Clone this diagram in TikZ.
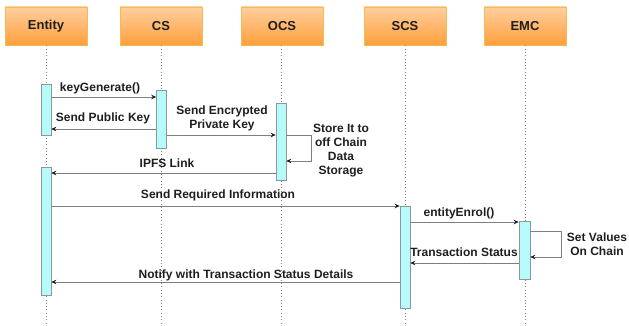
\documentclass[tikz,border=0pt]{standalone}
\usepackage{fontspec}
\setmainfont{Liberation Sans}
\usetikzlibrary{arrows.meta}
\definecolor{hdrtop}{HTML}{FFCF9E}
\definecolor{hdrbot}{HTML}{FF9F3C}
\definecolor{hdrline}{HTML}{F2BC52}
\definecolor{barfill}{HTML}{B6FAFA}
\definecolor{barline}{HTML}{8A9A9A}
\definecolor{wire}{HTML}{7F7F7F}
\definecolor{ink}{HTML}{1E1E1E}
\begin{document}
\begin{tikzpicture}[x=1pt,y=-1pt,
  actor/.style={draw=hdrline, line width=0.8pt, top color=hdrtop, bottom color=hdrbot,
    minimum width=82pt, minimum height=38pt, inner sep=0pt,
    font=\fontsize{13}{15}\selectfont\bfseries, text=ink},
  life/.style={draw=wire, line width=0.9pt, dash pattern=on 0.9pt off 2.4pt},
  actbar/.style={draw=barline, line width=0.6pt, fill=barfill, inner sep=0pt,
    minimum width=10pt, anchor=north},
  msg/.style={draw=wire, line width=0.8pt, -{Stealth[length=5pt,width=4.5pt,color=ink,fill=ink]}},
  lbl/.style={font=\fontsize{12}{13.8}\selectfont\bfseries, text=ink, align=center, inner sep=0pt}
]
\useasboundingbox (0,0) rectangle (629,326);

% participants
\node[actor] (ent) at (46,26)  {Entity};
\node[actor] (cs)  at (161,26) {CS};
\node[actor] (ocs) at (282,26) {OCS};
\node[actor] (scs) at (405,26) {SCS};
\node[actor] (emc) at (525,26) {EMC};

% lifelines
\coordinate (entEnd) at (46,323);
\coordinate (csEnd)  at (161,323);
\coordinate (ocsEnd) at (281,323);
\coordinate (scsEnd) at (405,323);
\coordinate (emcEnd) at (525,323);
\draw[life] (ent.south -| entEnd) -- (entEnd);
\draw[life] (cs.south -| csEnd) -- (csEnd);
\draw[life] (ocs.south -| ocsEnd) -- (ocsEnd);
\draw[life] (scs.south -| scsEnd) -- (scsEnd);
\draw[life] (emc.south -| emcEnd) -- (emcEnd);

% activation bars
\node[actbar, minimum height=51pt]  (e1) at (46,84)    {};
\node[actbar, minimum height=58pt]  (c1) at (161.5,90) {};
\node[actbar, minimum height=77pt]  (o1) at (281,103)  {};
\node[actbar, minimum height=128pt] (e2) at (46,167)   {};
\node[actbar, minimum height=102pt] (s1) at (405,206)  {};
\node[actbar, minimum height=58pt, minimum width=11pt] (m1) at (524.5,221) {};

% messages
\draw[msg] (e1.east |- 0,97)  -- (c1.west |- 0,97);
\node[lbl] (l1) at (100,88) {keyGenerate()};

\draw[msg] (c1.west |- 0,129) -- (e1.east |- 0,129);
\node[lbl] (l2) at (103,118) {Send Public Key};

\draw[msg] (c1.east |- 0,135) -- (o1.west |- 0,135);
\node[lbl] (l3) at (222,118.5) {Send Encrypted\\Private Key};

\draw[msg] (o1.east |- 0,135) -| (311,161) -- (o1.east |- 0,161);
\node[lbl] (l4) at (341,150.5) {Store It to\\off Chain\\Data\\Storage};

\draw[msg] (o1.west |- 0,173) -- (e2.east |- 0,173);
\node[lbl] (l5) at (167,163) {IPFS Link};

\draw[msg] (e2.east |- 0,206) -- (s1.west |- 0,206);
\node[lbl] (l6) at (218,195) {Send Required Information};

\draw[msg] (s1.east |- 0,222) -- (m1.west |- 0,222);
\node[lbl] (l7) at (459,213) {entityEnrol()};

\draw[msg] (m1.east |- 0,231) -| (561,257) -- (m1.east |- 0,257);
\node[lbl] (l8) at (597,244) {Set Values\\On Chain};

\draw[msg] (m1.west |- 0,263) -- (s1.east |- 0,263);
\node[lbl] (l9) at (464,252) {Transaction Status};

\draw[msg] (s1.west |- 0,282) -- (e2.east |- 0,282);
\node[lbl] (l10) at (246,275) {Notify with Transaction Status Details};
\end{tikzpicture}
\end{document}
